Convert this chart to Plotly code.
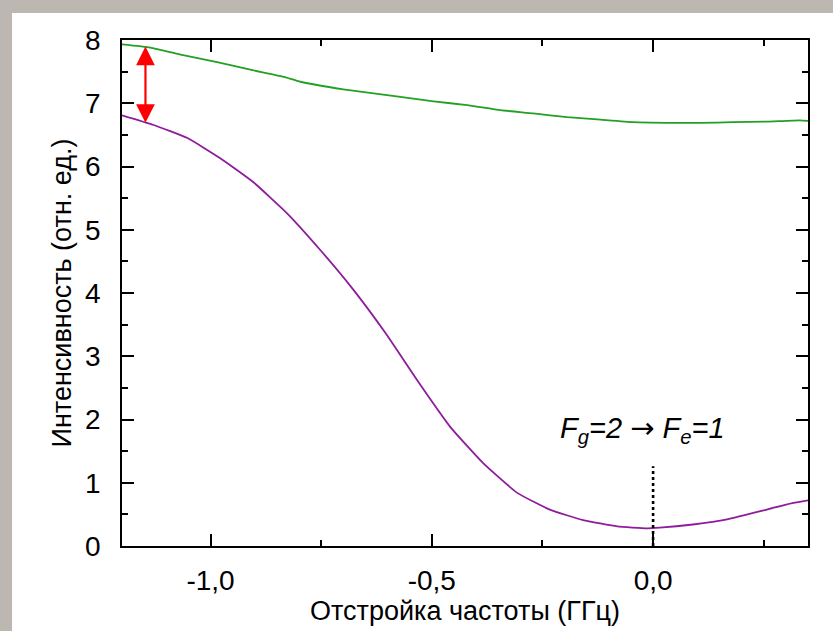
import plotly.graph_objects as go

# ---- data ----
green_x = [-1.200, -1.136, -1.062, -0.985, -0.910, -0.836, -0.797, -0.700, -0.571,
           -0.496, -0.420, -0.345, -0.271, -0.194, -0.119, -0.045, 0.032, 0.106,
           0.181, 0.258, 0.332, 0.350]
green_y = [7.93, 7.88, 7.76, 7.65, 7.53, 7.42, 7.34, 7.22, 7.10,
           7.03, 6.97, 6.89, 6.84, 6.78, 6.74, 6.70, 6.69, 6.69,
           6.70, 6.71, 6.73, 6.72]

purple_x = [-1.200, -1.130, -1.052, -0.978, -0.903, -0.827, -0.752, -0.677, -0.605,
            -0.533, -0.458, -0.384, -0.307, -0.232, -0.158, -0.081, -0.014, 0.015,
            0.090, 0.167, 0.242, 0.317, 0.350]
purple_y = [6.81, 6.66, 6.45, 6.13, 5.75, 5.26, 4.68, 4.05, 3.37,
            2.62, 1.88, 1.31, 0.84, 0.57, 0.41, 0.31, 0.28, 0.29,
            0.34, 0.42, 0.55, 0.68, 0.72]

x_tick_vals = [-1.0, -0.5, 0.0]
x_tick_text = ["-1,0", "-0,5", "0,0"]
x_minor_vals = [-0.75, -0.25, 0.25]
y_tick_vals = [0, 1, 2, 3, 4, 5, 6, 7, 8]
y_minor_vals = [0.5, 1.5, 2.5, 3.5, 4.5, 5.5, 6.5, 7.5]

arrow_x = -1.147
arrow_top = 7.92
arrow_bottom = 6.69
marker_x = 0.0
marker_top = 1.26

FONT = "Liberation Sans, Arial, sans-serif"

fig = go.Figure()
fig.add_trace(go.Scatter(x=green_x, y=green_y, mode="lines",
                         line=dict(color="#23a023", width=1.8, shape="spline", smoothing=0.4),
                         showlegend=False))
fig.add_trace(go.Scatter(x=purple_x, y=purple_y, mode="lines",
                         line=dict(color="#8e1c9c", width=1.8, shape="spline", smoothing=0.4),
                         showlegend=False))

# dotted marker line at resonance
fig.add_trace(go.Scatter(x=[marker_x, marker_x], y=[0, marker_top], mode="lines",
                         line=dict(color="black", width=2.6, dash="dot"),
                         showlegend=False))

# white slide panel
fig.add_shape(type="rect", xref="paper", yref="paper",
              x0=-0.1603, x1=1.05, y0=-0.2, y1=1.0534,
              fillcolor="white", line=dict(width=0), layer="below")

# red double arrow
fig.add_annotation(x=arrow_x, y=arrow_bottom, ax=arrow_x, ay=arrow_top,
                   xref="x", yref="y", axref="x", ayref="y",
                   showarrow=True, arrowhead=2, startarrowhead=2,
                   arrowside="end+start", arrowsize=1.7, startarrowsize=1.7,
                   arrowwidth=2.2, arrowcolor="#ff0000", text="")

fig.add_annotation(x=-0.215, y=1.84, xref="x", yref="y", xanchor="left",
                   yanchor="middle", showarrow=False,
                   text="<i>F<sub>g</sub>=2 <span style='font-family:DejaVu Sans'>→</span> F<sub>e</sub>=1</i>",
                   font=dict(family=FONT, size=29, color="black"))

axis_common = dict(showline=True, linecolor="black", linewidth=1.6, mirror="ticks",
                   ticks="inside", ticklen=12, tickwidth=1.6, tickcolor="black",
                   showgrid=False, zeroline=False,
                   tickfont=dict(family=FONT, size=28, color="black"))

fig.update_xaxes(range=[-1.2, 0.35], tickmode="array", tickvals=x_tick_vals,
                 ticktext=x_tick_text, ticklabelstandoff=9,
                 minor=dict(tickmode="array", tickvals=x_minor_vals, ticks="inside",
                            ticklen=6, tickwidth=1.6, tickcolor="black"),
                 title=dict(text="Отстройка частоты (ГГц)", standoff=1,
                            font=dict(family=FONT, size=27, color="black")),
                 **axis_common)
fig.update_yaxes(range=[0, 8], tickmode="array", tickvals=y_tick_vals,
                 ticklabelstandoff=14,
                 minor=dict(tickmode="array", tickvals=y_minor_vals, ticks="inside",
                            ticklen=6, tickwidth=1.6, tickcolor="black"),
                 title=dict(text="Интенсивность (отн. ед.)", standoff=6,
                            font=dict(family=FONT, size=27, color="black")),
                 **axis_common)

fig.update_layout(width=833, height=631,
                  margin=dict(l=122, r=25, t=40, b=85, autoexpand=False),
                  paper_bgcolor="#bcb8b1", plot_bgcolor="rgba(0,0,0,0)",
                  separators=", ")

fig.write_html("out.html", config={"displayModeBar": False},
               post_script="document.body.style.margin='0';document.body.style.overflow='hidden';")
